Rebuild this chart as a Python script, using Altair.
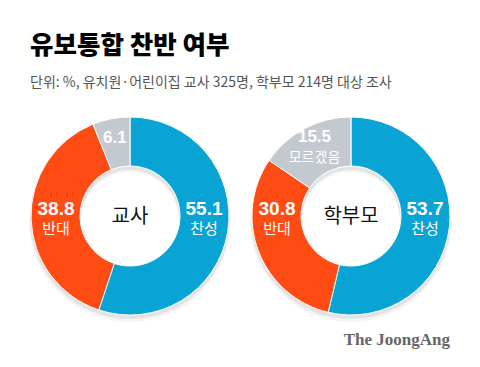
import altair as alt
import pandas as pd

# ---- data ----
groups = ["교사", "학부모"]
categories = ["찬성", "반대", "모르겠음"]
teacher_values = [55.1, 38.8, 6.1]
parent_values = [53.7, 30.8, 15.5]
colors = ["#0aa4d4", "#ff4b14", "#c4c9cf"]

title_text = "유보통합 찬반 여부"
subtitle_text = "단위: %, 유치원·어린이집 교사 325명, 학부모 214명 대상 조사"
logo_text = "The JoongAng"

# ---- layout ----
CY = 208
X_RANGE = [122, 343]
R_IN, R_OUT = 50, 99
FONT = "Noto Sans CJK KR"
NUM_FONT = "Liberation Sans, sans-serif"

rows = []
for g, vals in zip(groups, [teacher_values, parent_values]):
    cum = 0.0
    for i, (c, v) in enumerate(zip(categories, vals)):
        start, end = cum, cum + v
        cum = end
        if c == "찬성":
            pos = 25.0
        elif c == "반대":
            pos = 75.0
        else:
            pos = (start + end) / 2
        rows.append({
            "group": g, "category": c, "value": v, "ord": i,
            "start": start, "end": end, "pos": pos,
            "num": f"{v:.1f}", "word": c if v >= 10 else "",
            "main": c != "모르겠음",
        })
df = pd.DataFrame(rows)
gdf = pd.DataFrame({"group": groups})

xenc = alt.X("group:N", scale=alt.Scale(type="point", domain=groups, range=X_RANGE, padding=0), axis=None)
theta_scale = alt.Scale(domain=[0, 100])

shadow1 = alt.Chart(gdf).mark_arc(innerRadius=R_IN - 1, outerRadius=R_OUT + 1, theta=0, theta2=6.2832,
                                  color="#000000", opacity=0.07).encode(x=xenc, y=alt.value(CY + 3))
shadow2 = alt.Chart(gdf).mark_arc(innerRadius=R_IN - 1, outerRadius=R_OUT + 2, theta=0, theta2=6.2832,
                                  color="#000000", opacity=0.04).encode(x=xenc, y=alt.value(CY + 5))

arcs = alt.Chart(df).mark_arc(innerRadius=R_IN, outerRadius=R_OUT, stroke="white", strokeWidth=1).encode(
    x=xenc,
    y=alt.value(CY),
    theta=alt.Theta("start:Q", scale=theta_scale, stack=None),
    theta2="end:Q",
    color=alt.Color("category:N", scale=alt.Scale(domain=categories, range=colors), legend=None),
)

main = df[df["main"]]
gray = df[~df["main"]]

num_main = alt.Chart(main).mark_text(radius=74, font=NUM_FONT, fontSize=19, fontWeight="bold", color="white",
                                     baseline="middle", dy=-7).encode(
    x=xenc, y=alt.value(CY), theta=alt.Theta("pos:Q", scale=theta_scale, stack=None), text="num:N")
word_main = alt.Chart(main).mark_text(radius=74, font=FONT, fontSize=15, color="white",
                                      baseline="middle", dy=13).encode(
    x=xenc, y=alt.value(CY), theta=alt.Theta("pos:Q", scale=theta_scale, stack=None), text="word:N")

gray_small = gray[gray["word"] == ""]
gray_big = gray[gray["word"] != ""]
num_gray_small = alt.Chart(gray_small).mark_text(radius=80, font=NUM_FONT, fontSize=17, fontWeight="bold",
                                                 color="white", baseline="middle", dy=1).encode(
    x=xenc, y=alt.value(CY), theta=alt.Theta("pos:Q", scale=theta_scale, stack=None), text="num:N")
num_gray_big = alt.Chart(gray_big).mark_text(radius=78, font=NUM_FONT, fontSize=17, fontWeight="bold",
                                             color="white", baseline="middle", dy=-10).encode(
    x=xenc, y=alt.value(CY), theta=alt.Theta("pos:Q", scale=theta_scale, stack=None), text="num:N")
word_gray_big = alt.Chart(gray_big).mark_text(radius=78, font=FONT, fontSize=14, color="white",
                                              baseline="middle", dy=11).encode(
    x=xenc, y=alt.value(CY), theta=alt.Theta("pos:Q", scale=theta_scale, stack=None), text="word:N")

center = alt.Chart(gdf).mark_text(font=FONT, fontSize=20, color="#111111", baseline="middle", dy=1).encode(
    x=xenc, y=alt.value(CY), text="group:N")

title = alt.Chart(pd.DataFrame({"t": [title_text]})).mark_text(
    font=FONT, fontSize=25.5, fontWeight=900, color="#000000", align="left", baseline="alphabetic").encode(
    x=alt.value(22), y=alt.value(46), text="t:N")
subtitle = alt.Chart(pd.DataFrame({"t": [subtitle_text]})).mark_text(
    font=FONT, fontSize=14, color="#555555", align="left", baseline="alphabetic").encode(
    x=alt.value(22), y=alt.value(78.5), text="t:N")
logo = alt.Chart(pd.DataFrame({"t": [logo_text]})).mark_text(
    font="Liberation Serif", fontSize=17, fontWeight="bold", color="#666666", align="right",
    baseline="alphabetic").encode(x=alt.value(442), y=alt.value(337), text="t:N")

chart = alt.layer(
    shadow1, shadow2, arcs, num_main, word_main, num_gray_small, num_gray_big, word_gray_big,
    center, title, subtitle, logo
).properties(
    width=464, height=351, autosize=alt.AutoSizeParams(type="none"), padding=0, background="white"
).configure_view(stroke=None)

chart.save("out.html", embed_options={"renderer": "svg", "actions": False})
